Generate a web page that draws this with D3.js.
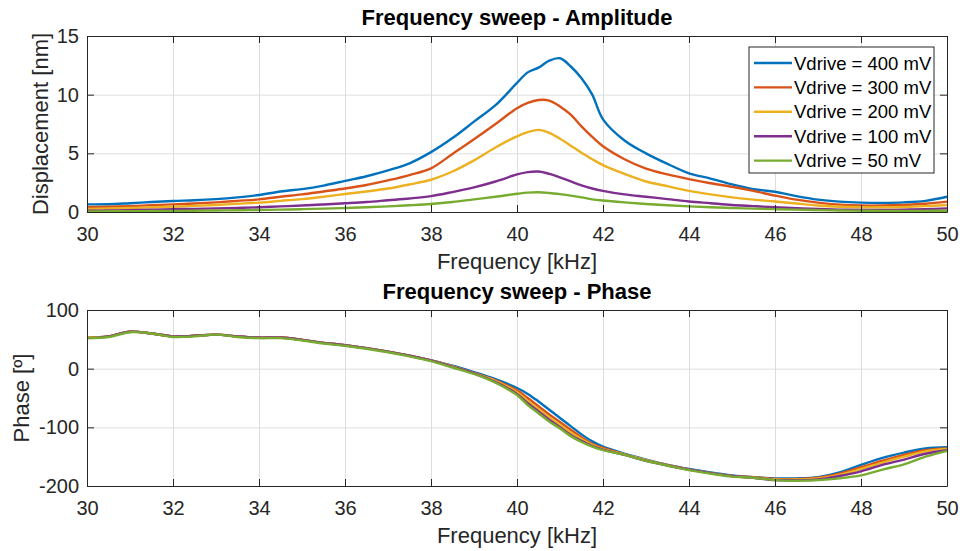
<!DOCTYPE html>
<html>
<head>
<meta charset="utf-8">
<script src="https://cdn.jsdelivr.net/npm/d3@7"></script>
<style>
  html, body { margin: 0; padding: 0; background: #fff; }
  svg { display: block; font-family: "Liberation Sans", Arial, sans-serif; }
</style>
</head>
<body>
<svg id="chart" width="962" height="551"></svg>
<script>
// frequency points [kHz]
const freq = [30, 30.5, 31, 31.5, 32, 32.5, 33, 33.5, 34, 34.5, 35, 35.5, 36, 36.5, 37, 37.5, 38, 38.5, 39, 39.5,
              40, 40.25, 40.5, 40.75, 41, 41.25, 41.5, 41.75, 42, 42.5, 43, 43.5, 44, 44.5, 45, 45.5, 46, 46.5,
              47, 47.5, 48, 48.5, 49, 49.5, 50];

// displacement [nm]
const amp400 = [0.65, 0.66, 0.75, 0.85, 0.94, 1.0, 1.1, 1.25, 1.45, 1.75, 1.95, 2.25, 2.65, 3.05, 3.55, 4.15, 5.1, 6.3, 7.7, 9.1,
                11.0, 11.9, 12.3, 12.9, 13.1, 12.4, 11.4, 10.0, 7.9, 6.1, 5.0, 4.1, 3.3, 2.85, 2.35, 1.95, 1.73, 1.35,
                1.05, 0.88, 0.8, 0.78, 0.82, 0.95, 1.3];
const amp300 = [0.4, 0.45, 0.5, 0.58, 0.65, 0.72, 0.82, 0.95, 1.08, 1.3, 1.5, 1.75, 2.0, 2.3, 2.7, 3.15, 3.72, 4.95, 6.2, 7.5,
                8.85, 9.3, 9.55, 9.5, 9.0, 8.3, 7.3, 6.4, 5.6, 4.5, 3.7, 3.2, 2.8, 2.45, 2.15, 1.8, 1.4, 1.05,
                0.8, 0.63, 0.55, 0.55, 0.6, 0.7, 0.88];
const amp200 = [0.26, 0.3, 0.34, 0.4, 0.45, 0.52, 0.6, 0.7, 0.8, 0.95, 1.1, 1.3, 1.53, 1.75, 2.0, 2.35, 2.75, 3.45, 4.4, 5.5,
                6.45, 6.8, 7.0, 6.75, 6.25, 5.65, 5.05, 4.5, 4.0, 3.25, 2.6, 2.2, 1.8, 1.5, 1.25, 1.05, 0.9, 0.72,
                0.55, 0.45, 0.4, 0.4, 0.43, 0.5, 0.6];
const amp100 = [0.11, 0.13, 0.16, 0.19, 0.23, 0.27, 0.31, 0.35, 0.4, 0.48, 0.55, 0.64, 0.74, 0.85, 1.0, 1.15, 1.35, 1.7, 2.1, 2.6,
                3.2, 3.4, 3.45, 3.25, 2.95, 2.6, 2.27, 2.0, 1.8, 1.5, 1.3, 1.1, 0.9, 0.75, 0.6, 0.5, 0.4, 0.32,
                0.25, 0.2, 0.17, 0.17, 0.2, 0.24, 0.31];
const amp50 = [0.05, 0.06, 0.07, 0.08, 0.09, 0.11, 0.13, 0.15, 0.17, 0.2, 0.24, 0.29, 0.34, 0.4, 0.48, 0.57, 0.68, 0.85, 1.08, 1.3,
               1.55, 1.65, 1.68, 1.62, 1.52, 1.4, 1.25, 1.08, 0.98, 0.82, 0.68, 0.57, 0.48, 0.4, 0.34, 0.29, 0.24, 0.2,
               0.16, 0.13, 0.11, 0.1, 0.1, 0.1, 0.11];

// phase [deg]
const phase400 = [53, 55, 63, 60, 55, 56, 58, 55, 53, 53, 49, 44, 40, 35, 29, 22, 14, 5, -6, -18,
                  -33, -43, -56, -70, -84, -98, -112, -124, -133, -145, -155, -164, -171, -177, -182, -185, -187, -187,
                  -185, -177, -164, -152, -143, -136, -134];
const phase300 = [53, 55, 63, 60, 55, 56, 58, 55, 53, 53, 49, 44, 40, 35, 29, 22, 14, 4, -7, -20,
                  -37, -50, -64, -78, -91, -104, -117, -128, -135, -146, -156, -164, -172, -178, -183, -185, -188, -188,
                  -186, -179, -168, -157, -147, -139, -136];
const phase200 = [53, 55, 63, 60, 55, 56, 58, 55, 53, 53, 49, 44, 40, 35, 29, 22, 14, 4, -8, -21,
                  -40, -55, -69, -83, -96, -109, -120, -130, -137, -146, -156, -165, -172, -178, -183, -186, -189, -189,
                  -187, -181, -171, -160, -150, -141, -137];
const phase100 = [52, 55, 63, 60, 55, 56, 58, 55, 53, 53, 49, 44, 40, 35, 29, 22, 14, 3, -8, -23,
                  -43, -59, -73, -87, -100, -113, -123, -132, -138, -147, -157, -165, -172, -178, -183, -186, -190, -190,
                  -189, -183, -175, -164, -155, -145, -139];
const phase50 = [52, 54, 62, 60, 54, 55, 58, 54, 52, 52, 48, 43, 39, 34, 28, 21, 13, 2, -9, -24,
                 -45, -62, -76, -90, -102, -115, -125, -133, -139, -147, -157, -165, -173, -179, -184, -186, -190, -191,
                 -190, -187, -182, -172, -163, -150, -140];

const labels = ["Vdrive = 400 mV", "Vdrive = 300 mV", "Vdrive = 200 mV", "Vdrive = 100 mV", "Vdrive = 50 mV"];
const colors = ["#0072BD", "#D95319", "#EDB120", "#7E2F8E", "#77AC30"];

const xTicks = [30, 32, 34, 36, 38, 40, 42, 44, 46, 48, 50];
const ampTicks = [0, 5, 10, 15];
const phaseTicks = [-200, -100, 0, 100];

const svg = d3.select("#chart");
const axisColor = "#262626";
const gridColor = "#dedede";

const x = d3.scaleLinear().domain([30, 50]).range([87, 947]);

function drawPanel(cfg) {
    const y = d3.scaleLinear().domain(cfg.domain).range([cfg.bottom, cfg.top]);
    const g = svg.append("g");

    // grid
    g.append("g")
        .attr("transform", "translate(0," + cfg.bottom + ")")
        .call(d3.axisBottom(x).tickValues(xTicks).tickSize(-(cfg.bottom - cfg.top)).tickFormat(""))
        .call(s => s.select(".domain").remove())
        .call(s => s.selectAll("line").attr("stroke", gridColor));
    g.append("g")
        .attr("transform", "translate(87,0)")
        .call(d3.axisLeft(y).tickValues(cfg.ticks).tickSize(-860).tickFormat(""))
        .call(s => s.select(".domain").remove())
        .call(s => s.selectAll("line").attr("stroke", gridColor));

    // lines
    const line = d3.line()
        .x((d, i) => x(freq[i]))
        .y(d => y(d))
        .curve(d3.curveCatmullRom.alpha(0.5));
    cfg.series.forEach(function(s, i) {
        g.append("path")
            .attr("d", line(s))
            .attr("fill", "none")
            .attr("stroke", colors[i])
            .attr("stroke-width", 2.4)
            .attr("stroke-linejoin", "round");
    });

    // axes, ticks pointing inward on all four sides
    const axes = g.append("g");
    const bottomAx = axes.append("g")
        .attr("transform", "translate(0," + cfg.bottom + ")")
        .call(d3.axisBottom(x).tickValues(xTicks).tickSizeInner(-7).tickSizeOuter(0).tickPadding(15)
            .tickFormat(d => String(d)));
    axes.append("g")
        .attr("transform", "translate(0," + cfg.top + ")")
        .call(d3.axisTop(x).tickValues(xTicks).tickSizeInner(-7).tickSizeOuter(0).tickFormat(""));
    const leftAx = axes.append("g")
        .attr("transform", "translate(87,0)")
        .call(d3.axisLeft(y).tickValues(cfg.ticks).tickSizeInner(-7).tickSizeOuter(0).tickPadding(8)
            .tickFormat(d => String(d)));
    axes.append("g")
        .attr("transform", "translate(947,0)")
        .call(d3.axisRight(y).tickValues(cfg.ticks).tickSizeInner(-7).tickSizeOuter(0).tickFormat(""));

    axes.selectAll(".domain").attr("stroke", axisColor);
    axes.selectAll(".tick line").attr("stroke", axisColor);
    axes.selectAll("g").attr("font-family", null).attr("font-size", null);
    bottomAx.selectAll("text").attr("font-size", 20).attr("fill", axisColor);
    leftAx.selectAll("text").attr("font-size", 20).attr("fill", axisColor);

    // titles and labels
    g.append("text")
        .attr("x", 517).attr("y", cfg.top - 11)
        .attr("text-anchor", "middle")
        .attr("font-size", 22).attr("font-weight", "bold").attr("fill", "#000")
        .text(cfg.title);
    g.append("text")
        .attr("x", 517).attr("y", cfg.bottom + 57)
        .attr("text-anchor", "middle")
        .attr("font-size", 22).attr("fill", axisColor)
        .text("Frequency [kHz]");
    g.append("text")
        .attr("transform", "translate(" + cfg.ylabelX + "," + ((cfg.top + cfg.bottom) / 2) + ") rotate(-90)")
        .attr("text-anchor", "middle")
        .attr("font-size", 22).attr("fill", axisColor)
        .text(cfg.ylabel);
    return g;
}

drawPanel({
    domain: [0, 15], ticks: ampTicks, top: 36, bottom: 212,
    title: "Frequency sweep - Amplitude", ylabel: "Displacement [nm]", ylabelX: 48,
    series: [amp400, amp300, amp200, amp100, amp50]
});
drawPanel({
    domain: [-200, 100], ticks: phaseTicks, top: 310, bottom: 486,
    title: "Frequency sweep - Phase", ylabel: "Phase [º]", ylabelX: 29,
    series: [phase400, phase300, phase200, phase100, phase50]
});

// legend
const legend = svg.append("g").attr("transform", "translate(749,47)");
legend.append("rect")
    .attr("width", 185).attr("height", 126)
    .attr("fill", "#fff").attr("stroke", axisColor).attr("stroke-width", 1);
labels.forEach(function(lab, i) {
    const cy = 16 + i * 24.4;
    legend.append("line")
        .attr("x1", 5).attr("x2", 43).attr("y1", cy).attr("y2", cy)
        .attr("stroke", colors[i]).attr("stroke-width", 2.4);
    legend.append("text")
        .attr("x", 45).attr("y", cy + 6.5)
        .attr("font-size", 18.5).attr("fill", "#000")
        .text(lab);
});
</script>
</body>
</html>
